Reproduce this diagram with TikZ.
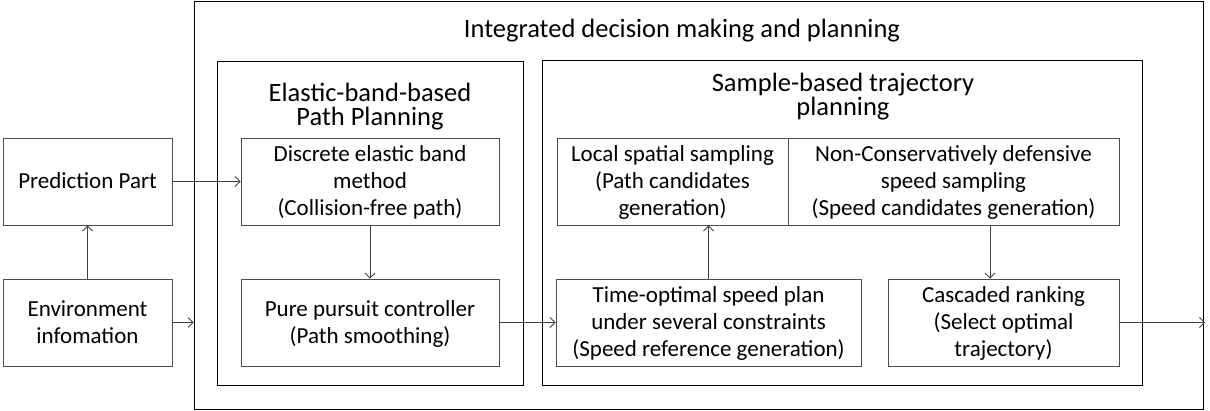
\documentclass[tikz,border=0pt]{standalone}
\usepackage{fontspec}
\setmainfont{Carlito}
\usetikzlibrary{arrows.meta,calc}
\begin{document}
\begin{tikzpicture}[x=1pt,y=-1pt,
  box/.style={draw=black!70, line width=0.9pt, inner sep=0pt, align=center,
    font=\fontsize{23}{27}\selectfont, text depth=1.5pt},
  frame/.style={draw=black, line width=0.8pt, inner sep=0pt},
  ttl/.style={align=center, inner sep=0pt, font=\fontsize{26.5}{24}\selectfont},
  arr/.style={draw=black!75, line width=0.8pt, -{Straight Barb[length=5pt,width=10pt]}}]
\useasboundingbox (0,0) rectangle (1210,411);
% frames
\node[frame, minimum width=1009, minimum height=408] (outer) at (698.5,205) {};
\node[frame, minimum width=306, minimum height=324] (eb) at (370,223) {};
\node[frame, minimum width=600, minimum height=325] (sb) at (842,222.5) {};
\node[ttl] (t0) at (682,30.5) {Integrated decision making and planning};
\node[ttl] (t1) at (370,107) {Elastic-band-based\\Path Planning};
\node[ttl] (t2) at (843,97) {Sample-based trajectory\\planning};
% boxes
\node[box, minimum width=169, minimum height=87] (pred) at (87.5,181.5) {Prediction Part};
\node[box, minimum width=169, minimum height=87] (env) at (87.5,322.5) {Environment\\infomation};
\node[box, minimum width=258, minimum height=87] (disc) at (370,181.5) {Discrete elastic band\\method\\(Collision-free path)};
\node[box, minimum width=258, minimum height=87] (pure) at (370,322.5) {Pure pursuit controller\\(Path smoothing)};
\node[box, minimum width=231, minimum height=87] (loc) at (672.5,181.5) {Local spatial sampling\\(Path candidates\\generation)};
\node[box, minimum width=331, minimum height=87] (non) at (953.5,181.5) {Non-Conservatively defensive\\speed sampling\\(Speed candidates generation)};
\node[box, minimum width=305, minimum height=87] (time) at (708.5,322.5) {Time-optimal speed plan\\under several constraints\\(Speed reference generation)};
\node[box, minimum width=231, minimum height=87] (cas) at (1003.5,322.5) {Cascaded ranking\\(Select optimal\\trajectory)};
% connectors
\coordinate (nc) at (990,0);
\coordinate (out) at (1205,322.5);
\draw[arr] (pred.east) -- (disc.west);
\draw[arr] (env.north) -- (pred.south);
\draw[arr] (env.east) -- (env.east -| outer.west);
\draw[arr] (disc.south) -- (pure.north);
\draw[arr] (pure.east) -- (time.west);
\draw[arr] (time.north) -- (loc.south -| time.north);
\draw[arr] (non.south -| nc) -- (cas.north -| nc);
\draw[arr] (cas.east) -- (out);
\end{tikzpicture}
\end{document}
